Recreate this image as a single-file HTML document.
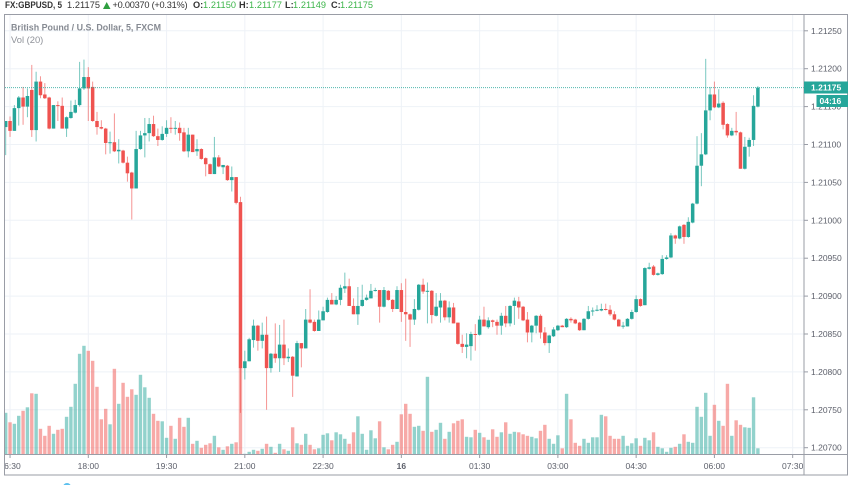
<!DOCTYPE html>
<html>
<head>
<meta charset="utf-8">
<title>GBPUSD 5 minute chart</title>
<style>
html,body{margin:0;padding:0;background:#fff;width:852px;height:485px;overflow:hidden}
svg{display:block;font-family:"Liberation Sans",sans-serif}
</style>
</head>
<body>
<svg id="chart" width="852" height="485" viewBox="0 0 852 485" xmlns="http://www.w3.org/2000/svg">
  <defs>
    <clipPath id="plot-clip"><rect x="5" y="15" width="799" height="439.5"/></clipPath>
    <clipPath id="time-clip"><rect x="5" y="455" width="799" height="20"/></clipPath>
  </defs>
  <g font-size="9.2" fill="#333">
    <text x="5" y="8" font-weight="bold" textLength="57" lengthAdjust="spacingAndGlyphs">FX:GBPUSD, 5</text>
    <text x="67" y="8" textLength="33">1.21175</text>
    <path d="M103 9L106.7 2L110.5 9Z" fill="#2e9e3f"/>
    <text x="112.5" y="8" textLength="75">+0.00370 (+0.31%)</text>
    <text x="193" y="8" font-weight="bold">O:</text>
    <text x="203" y="8" fill="#3cb54a" textLength="33">1.21150</text>
    <text x="239" y="8" font-weight="bold">H:</text>
    <text x="249" y="8" fill="#3cb54a" textLength="33">1.21177</text>
    <text x="285" y="8" font-weight="bold">L:</text>
    <text x="293" y="8" fill="#3cb54a" textLength="33">1.21149</text>
    <text x="331" y="8" font-weight="bold">C:</text>
    <text x="340" y="8" fill="#3cb54a" textLength="33">1.21175</text>
  </g>
  <g id="grid"></g>
  <g id="plot" clip-path="url(#plot-clip)" style="filter:blur(.3px)">
    <g id="volumes"></g>
    <g id="candles"></g>
  </g>
  <line id="last-line" x1="5" x2="804" stroke="#26a69a" stroke-width="1" stroke-dasharray="1 1" opacity=".8"/>
  <text x="11" y="30.5" font-size="9.6" font-weight="bold" fill="#868a92" textLength="150" lengthAdjust="spacingAndGlyphs">British Pound / U.S. Dollar, 5, FXCM</text>
  <text x="11" y="43" font-size="9.4" fill="#8f9299">Vol (20)</text>
  <g id="price-axis" font-size="8.5" fill="#5d606b"></g>
  <g id="time-axis" font-size="8.5" fill="#5d606b" clip-path="url(#time-clip)"></g>
  <g id="time-ticks"></g>
  <g fill="none" stroke="#9a9da6" stroke-width="1">
    <rect x="4.5" y="14.5" width="843" height="460.5"/>
    <line x1="804" y1="14.5" x2="804" y2="475"/>
    <line x1="4.5" y1="454.5" x2="847.5" y2="454.5"/>
  </g>
  <g id="last-tag">
    <rect x="804" y="81.5" width="44" height="12" fill="#26a69a"/>
    <text id="last-tag-text" x="811" y="90.7" font-size="8.5" font-weight="bold" fill="#fff">1.21175</text>
    <rect x="816.5" y="95" width="31.5" height="12" fill="#26a69a"/>
    <text x="819.5" y="104.2" font-size="8.5" font-weight="bold" fill="#fff">04:16</text>
  </g>
  <circle cx="67" cy="487" r="4" fill="#5cc0ee"/>
</svg>
<script>
var opens=[1.21123,1.21131,1.21118,1.21148,1.21162,1.21150,1.21172,1.21119,1.21183,1.21166,
1.21162,1.21121,1.21152,1.21151,1.21121,1.21135,1.21142,1.21152,1.21174,1.21189,
1.21176,1.21131,1.21123,1.21121,1.21102,1.21103,1.21091,1.21092,1.21076,1.21063,
1.21042,1.21094,1.21112,1.21115,1.21127,1.21111,1.21106,1.21114,1.21122,1.21121,
1.21122,1.21116,1.21091,1.21113,1.21091,1.21094,1.21082,1.21074,1.21061,1.21083,
1.21070,1.21072,1.21053,1.21057,1.21024,1.20805,1.20814,1.20842,1.20861,1.20841,
1.20849,1.20805,1.20824,1.20818,1.20836,1.20818,1.20820,1.20794,1.20838,1.20831,
1.20869,1.20866,1.20854,1.20868,1.20879,1.20895,1.20889,1.20895,1.20910,1.20913,
1.20887,1.20876,1.20887,1.20895,1.20897,1.20907,1.20908,1.20886,1.20907,1.20895,
1.20883,1.20908,1.20879,1.20876,1.20869,1.20882,1.20915,1.20906,1.20907,1.20874,
1.20885,1.20894,1.20872,1.20885,1.20865,1.20837,1.20833,1.20834,1.20850,1.20849,
1.20869,1.20859,1.20868,1.20866,1.20861,1.20874,1.20864,1.20887,1.20893,1.20886,
1.20869,1.20852,1.20861,1.20874,1.20852,1.20838,1.20847,1.20855,1.20861,1.20859,
1.20870,1.20869,1.20865,1.20855,1.20870,1.20880,1.20881,1.20881,1.20883,1.20882,
1.20876,1.20869,1.20860,1.20860,1.20870,1.20879,1.20896,1.20888,1.20936,1.20939,
1.20928,1.20929,1.20949,1.20951,1.20980,1.20976,1.20994,1.20978,1.20997,1.21022,
1.21072,1.21087,1.21145,1.21166,1.21149,1.21155,1.21127,1.21112,1.21118,1.21116,
1.21068,1.21097,1.21106,1.21150];
var closes=[1.21131,1.21118,1.21148,1.21162,1.21150,1.21164,1.21119,1.21183,1.21165,1.21161,
1.21121,1.21152,1.21151,1.21121,1.21136,1.21143,1.21152,1.21174,1.21189,1.21174,
1.21131,1.21123,1.21121,1.21102,1.21103,1.21091,1.21093,1.21076,1.21062,1.21042,
1.21094,1.21112,1.21115,1.21127,1.21111,1.21106,1.21114,1.21122,1.21121,1.21122,
1.21115,1.21091,1.21113,1.21090,1.21094,1.21081,1.21074,1.21061,1.21083,1.21071,
1.21073,1.21053,1.21057,1.21023,1.20805,1.20814,1.20843,1.20861,1.20841,1.20849,
1.20805,1.20824,1.20818,1.20836,1.20818,1.20820,1.20795,1.20838,1.20831,1.20869,
1.20865,1.20854,1.20869,1.20880,1.20895,1.20889,1.20895,1.20911,1.20913,1.20887,
1.20876,1.20887,1.20895,1.20898,1.20907,1.20908,1.20886,1.20908,1.20895,1.20883,
1.20908,1.20879,1.20876,1.20869,1.20883,1.20915,1.20906,1.20907,1.20875,1.20886,
1.20894,1.20872,1.20885,1.20864,1.20837,1.20833,1.20836,1.20850,1.20849,1.20869,
1.20860,1.20868,1.20866,1.20861,1.20874,1.20864,1.20887,1.20894,1.20885,1.20868,
1.20852,1.20861,1.20874,1.20852,1.20838,1.20848,1.20856,1.20861,1.20859,1.20870,
1.20868,1.20864,1.20855,1.20870,1.20880,1.20881,1.20882,1.20883,1.20882,1.20876,
1.20869,1.20860,1.20861,1.20870,1.20879,1.20896,1.20887,1.20937,1.20938,1.20928,
1.20930,1.20949,1.20951,1.20980,1.20976,1.20992,1.20978,1.20998,1.21022,1.21072,
1.21087,1.21145,1.21166,1.21149,1.21154,1.21126,1.21112,1.21118,1.21116,1.21068,
1.21097,1.21106,1.21151,1.21175];
var highs=[1.21131,1.21137,1.21152,1.21164,1.21176,1.21174,1.21205,1.21196,1.21190,1.21181,
1.21163,1.21152,1.21157,1.21162,1.21137,1.21158,1.21159,1.21209,1.21212,1.21202,
1.21183,1.21143,1.21132,1.21122,1.21117,1.21141,1.21107,1.21093,1.21084,1.21064,
1.21118,1.21118,1.21135,1.21135,1.21138,1.21121,1.21124,1.21132,1.21136,1.21131,
1.21129,1.21122,1.21122,1.21113,1.21107,1.21095,1.21083,1.21075,1.21110,1.21086,
1.21073,1.21073,1.21071,1.21057,1.21031,1.20828,1.20845,1.20869,1.20862,1.20865,
1.20873,1.20825,1.20864,1.20862,1.20869,1.20831,1.20821,1.20841,1.20838,1.20883,
1.20909,1.20869,1.20881,1.20886,1.20898,1.20904,1.20900,1.20915,1.20931,1.20923,
1.20897,1.20912,1.20915,1.20902,1.20916,1.20911,1.20908,1.20912,1.20908,1.20896,
1.20913,1.20917,1.20923,1.20877,1.20896,1.20916,1.20923,1.20918,1.20908,1.20904,
1.20904,1.20895,1.20893,1.20891,1.20865,1.20849,1.20851,1.20853,1.20863,1.20874,
1.20886,1.20872,1.20869,1.20869,1.20878,1.20887,1.20888,1.20898,1.20899,1.20887,
1.20879,1.20862,1.20875,1.20876,1.20859,1.20849,1.20859,1.20862,1.20862,1.20871,
1.20872,1.20870,1.20866,1.20871,1.20887,1.20885,1.20888,1.20890,1.20890,1.20888,
1.20880,1.20870,1.20866,1.20871,1.20882,1.20901,1.20897,1.20938,1.20944,1.20941,
1.20931,1.20954,1.20954,1.20983,1.20981,1.20993,1.20995,1.21004,1.21023,1.21111,
1.21115,1.21213,1.21176,1.21183,1.21173,1.21157,1.21128,1.21122,1.21143,1.21117,
1.21110,1.21109,1.21165,1.21177];
var lows=[1.21086,1.21110,1.21118,1.21125,1.21126,1.21136,1.21110,1.21104,1.21161,1.21160,
1.21120,1.21121,1.21131,1.21121,1.21110,1.21134,1.21141,1.21150,1.21172,1.21131,
1.21130,1.21113,1.21120,1.21087,1.21088,1.21090,1.21075,1.21075,1.21051,1.21001,
1.21042,1.21093,1.21083,1.21104,1.21110,1.21098,1.21105,1.21110,1.21115,1.21113,
1.21105,1.21090,1.21083,1.21090,1.21085,1.21080,1.21058,1.21061,1.21061,1.21070,
1.21061,1.21052,1.21038,1.21021,1.20746,1.20790,1.20814,1.20832,1.20828,1.20831,
1.20750,1.20799,1.20812,1.20800,1.20809,1.20813,1.20767,1.20794,1.20806,1.20831,
1.20864,1.20853,1.20854,1.20868,1.20878,1.20889,1.20888,1.20888,1.20904,1.20887,
1.20876,1.20862,1.20886,1.20894,1.20897,1.20906,1.20865,1.20885,1.20894,1.20879,
1.20883,1.20866,1.20841,1.20833,1.20862,1.20881,1.20903,1.20864,1.20864,1.20873,
1.20865,1.20868,1.20865,1.20864,1.20836,1.20825,1.20818,1.20815,1.20828,1.20848,
1.20860,1.20857,1.20859,1.20849,1.20849,1.20859,1.20860,1.20862,1.20870,1.20867,
1.20839,1.20839,1.20851,1.20844,1.20835,1.20825,1.20846,1.20854,1.20859,1.20858,
1.20865,1.20863,1.20854,1.20855,1.20869,1.20874,1.20880,1.20880,1.20881,1.20874,
1.20868,1.20860,1.20857,1.20860,1.20869,1.20878,1.20886,1.20888,1.20935,1.20927,
1.20927,1.20928,1.20948,1.20950,1.20969,1.20975,1.20969,1.20977,1.20996,1.21021,
1.21045,1.21086,1.21132,1.21148,1.21148,1.21120,1.21109,1.21111,1.21112,1.21068,
1.21067,1.21084,1.21098,1.21149];
var volumes=[83,64,61,77,87,94,122,121,51,37,
57,41,49,51,75,95,141,201,217,207,
187,135,70,91,60,171,101,143,115,130,
119,159,134,113,81,67,66,33,57,31,
73,55,73,21,27,13,19,22,37,14,
9,16,21,24,173,1,5,9,7,11,
21,15,3,21,10,7,54,22,19,41,
19,10,12,39,42,28,44,40,31,21,
44,76,41,9,48,32,66,14,10,19,
25,80,101,81,55,57,47,155,45,49,
63,31,45,62,67,70,35,34,49,43,
34,29,50,35,44,64,41,45,44,40,
37,35,32,47,59,31,21,38,12,121,
70,23,17,31,23,34,34,79,76,37,
31,31,37,17,22,32,17,33,28,44,
15,12,5,13,15,21,40,25,23,95,
75,123,37,99,67,57,141,37,68,59,
54,53,114,12];
var priceTicks=[1.2125,1.212,1.2115,1.211,1.2105,1.21,1.2095,1.209,1.2085,1.208,1.2075,1.207];
var priceTickLabels=["1.21250","1.21200","1.21150","1.21100","1.21050","1.21000","1.20950","1.20900","1.20850","1.20800","1.20750","1.20700"];
var timeTickLabels=["16:30","18:00","19:30","21:00","22:30","16","01:30","03:00","04:30","06:00","07:30"];
var timeTickBars=[1,19,37,55,73,91,109,127,145,163,181];
var lastPrice=1.21175;

var NS='http://www.w3.org/2000/svg';
var UP='#26a69a', DOWN='#ef5350';
function xScale(i){return 88.3+(i-19)*4.348;}
function yPrice(p){return 447.7-(p-1.207)*75800;}
function yVolume(v){return 454.3-v/2;}
function make(tag,parent,attrs){
  var el=document.createElementNS(NS,tag);
  for(var k in attrs){el.setAttribute(k,attrs[k]);}
  parent.appendChild(el);
  return el;
}
var grid=document.getElementById('grid');
var priceAxis=document.getElementById('price-axis');
var timeAxis=document.getElementById('time-axis');
var timeTicksGroup=document.getElementById('time-ticks');
var volGroup=document.getElementById('volumes');
var candleGroup=document.getElementById('candles');

priceTicks.forEach(function(p,i){
  var y=yPrice(p);
  var g=make('line',grid,{x1:5,x2:804,y1:y,y2:y,stroke:'#eef2f7','stroke-width':1});
  
  
  var t=make('line',priceAxis,{x1:804,x2:808,y1:y,y2:y,stroke:'#9a9da6','stroke-width':1});
  
  
  var l=make('text',priceAxis,{x:811,y:y+3});
  
  
  l.textContent=priceTickLabels[i];
});
timeTickBars.forEach(function(b,i){
  var x=xScale(b);
  var g=make('line',grid,{x1:x,x2:x,y1:15,y2:454,stroke:'#eef2f7','stroke-width':1});
  
  
  var t=make('line',timeTicksGroup,{x1:x,x2:x,y1:454.5,y2:458,stroke:'#9a9da6','stroke-width':1});
  
  
  var l=make('text',timeAxis,{x:x,y:469,'text-anchor':'middle'});
  
  
  if(timeTickLabels[i].length<3){l.setAttribute('font-weight','bold');}
  l.textContent=timeTickLabels[i];
});
volumes.forEach(function(v,i){
  var up=closes[i]>=opens[i];
  var x=xScale(i);
  var y=yVolume(v);
  var r=make('rect',volGroup,{x:x-1.7,y:y,width:3.4,height:Math.max(0,yVolume(0)-y),fill:up?UP:DOWN,'fill-opacity':.5});
  
  
});
opens.forEach(function(o,i){
  var c=closes[i];
  var up=c>=o;
  var color=up?UP:DOWN;
  var x=xScale(i);
  var w=make('line',candleGroup,{x1:x,x2:x,y1:yPrice(highs[i]),y2:yPrice(lows[i]),stroke:color,'stroke-width':1,'stroke-opacity':.62});
  
  
  var top=yPrice(Math.max(o,c));
  var bot=yPrice(Math.min(o,c));
  var b=make('rect',candleGroup,{x:x-1.75,y:top,width:3.5,height:Math.max(1,bot-top),fill:color});
  
  
});
var lastLine=document.getElementById('last-line');
lastLine.setAttribute('y1',yPrice(lastPrice));
lastLine.setAttribute('y2',yPrice(lastPrice));
</script>
</body>
</html>
